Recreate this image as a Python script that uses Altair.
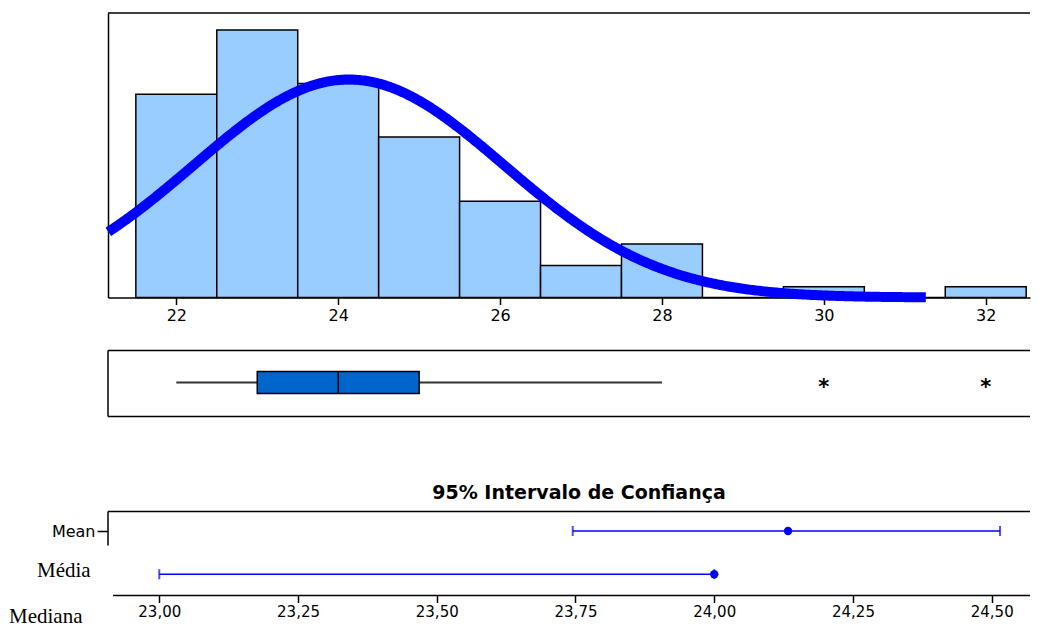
import altair as alt
import pandas as pd
import numpy as np

# ---- data ----
values = [22, 23, 24, 25, 26, 27, 28, 29, 30, 31, 32]
counts = [19, 25, 20, 15, 9, 3, 5, 0, 1, 0, 1]
hist_ticks = [22, 24, 26, 28, 30, 32]

ci_rows = ["Mean", "Median"]
ci_center = [24.133, 24.0]
ci_low = [23.745, 23.0]
ci_high = [24.515, 24.0]
ci_ticks = [23.0, 23.25, 23.5, 23.75, 24.0, 24.25, 24.5]

hist_domain = [21.156, 32.547]
ci_domain = [22.9076, 24.569]
curve_range = [21.16, 31.26]

# ---- derived statistics ----
raw = np.repeat(values, counts).astype(float)
n = len(raw)
mean = float(raw.mean())
sd = float(raw.std(ddof=1))
q1, med, q3 = [float(v) for v in np.percentile(raw, [25, 50, 75])]
iqr = q3 - q1
wlo = float(raw[raw >= q1 - 1.5 * iqr].min())
whi = float(raw[raw <= q3 + 1.5 * iqr].max())
outliers = sorted(set(float(v) for v in raw if v < q1 - 1.5 * iqr or v > q3 + 1.5 * iqr))

hist_df = pd.DataFrame({
    "start": [v - 0.5 for v in values],
    "end": [v + 0.5 for v in values],
    "count": counts,
})
box_df = pd.DataFrame({"q1": [q1], "med": [med], "q3": [q3], "lo": [wlo], "hi": [whi]})
out_df = pd.DataFrame({"v": outliers})
ci_df = pd.DataFrame({"row": ci_rows, "center": ci_center, "low": ci_low, "high": ci_high})
one = pd.DataFrame({"a": [0]})

W = 922
H1, H2, H3 = 284.5, 66, 126.5
FONT = "DejaVu Sans"

hist_x = alt.Scale(domain=hist_domain, nice=False, zero=False)
ci_x = alt.Scale(domain=ci_domain, nice=False, zero=False)

# ---- panel 1: histogram + fitted normal ----
bars = alt.Chart(hist_df).mark_rect(fill="#99CCFF", stroke="black", strokeWidth=1.5).encode(
    x=alt.X("start:Q", scale=hist_x,
            axis=alt.Axis(values=hist_ticks, title=None, grid=False, labelFontSize=16,
                          tickSize=7, tickWidth=1.5, labelPadding=3, domainWidth=1.5,
                          format="d")),
    x2="end:Q",
    y=alt.Y("count:Q", scale=alt.Scale(domain=[0, 26.59], nice=False),
            axis=alt.Axis(title=None, labels=False, ticks=False, grid=False,
                          domainWidth=1.5)),
    y2=alt.datum(0),
)
curve = alt.Chart(alt.sequence(start=curve_range[0], stop=curve_range[1], step=0.02, as_="x")).transform_calculate(
    y=f"{n}/({sd}*sqrt(2*PI))*exp(-pow(datum.x-{mean},2)/(2*{sd}*{sd}))"
).mark_line(color="#0000FF", strokeWidth=10).encode(
    x=alt.X("x:Q", scale=hist_x),
    y=alt.Y("y:Q"),
)
top1 = alt.Chart(one).mark_rule(color="black", strokeWidth=1.5).encode(
    x=alt.value(0), x2=alt.value(W), y=alt.value(0))
p1 = alt.layer(bars, curve, top1).properties(width=W, height=H1)

# ---- panel 2: boxplot ----
whisk = alt.Chart(box_df).mark_rule(color="#333333", strokeWidth=2).encode(
    x=alt.X("lo:Q", scale=hist_x, axis=None), x2="hi:Q", y=alt.value(32))
box = alt.Chart(box_df).mark_rect(fill="#0066CC", stroke="black", strokeWidth=1.5).encode(
    x=alt.X("q1:Q", scale=hist_x, axis=None), x2="q3:Q", y=alt.value(21), y2=alt.value(43))
medline = alt.Chart(box_df).mark_rule(color="black", strokeWidth=1.5).encode(
    x=alt.X("med:Q", scale=hist_x, axis=None), y=alt.value(21), y2=alt.value(43))
outl = alt.Chart(out_df).mark_text(text="*", font=FONT, fontSize=21, fontWeight="bold",
                                   baseline="alphabetic", dy=11, color="black").encode(
    x=alt.X("v:Q", scale=hist_x, axis=None), y=alt.value(32))
f2a = alt.Chart(one).mark_rule(color="black", strokeWidth=1.5).encode(
    x=alt.value(0), x2=alt.value(W), y=alt.value(0))
f2b = alt.Chart(one).mark_rule(color="black", strokeWidth=1.5).encode(
    x=alt.value(0), x2=alt.value(W), y=alt.value(H2))
f2c = alt.Chart(one).mark_rule(color="black", strokeWidth=1.5).encode(
    x=alt.value(0), y=alt.value(0), y2=alt.value(H2))
p2 = alt.layer(whisk, box, medline, outl, f2a, f2b, f2c).properties(width=W, height=H2)

# ---- panel 3: confidence intervals ----
ci_y = alt.Y("row:N", scale=alt.Scale(type="point", domain=ci_rows, range=[62, 105.2], padding=0),
             axis=alt.Axis(values=["Mean"], title=None, domain=False, grid=False,
                           tickSize=11, tickWidth=1.5, labelFontSize=16, labelPadding=2))
ci_xenc = alt.X("low:Q", scale=ci_x,
                axis=alt.Axis(values=ci_ticks, title=None, grid=False, domain=False,
                              labelFontSize=15, tickSize=7, tickWidth=1.5, labelPadding=2,
                              labelExpr="replace(format(datum.value, '.2f'), '.', ',')"))
ci_rule = alt.Chart(ci_df).mark_rule(color="#0000FF", strokeWidth=1.5).encode(
    x=ci_xenc, x2="high:Q", y=ci_y)
cap_lo = alt.Chart(ci_df).mark_tick(color="#0000FF", thickness=2, size=10).encode(
    x=alt.X("low:Q", scale=ci_x), y=ci_y)
cap_hi = alt.Chart(ci_df).mark_tick(color="#0000FF", thickness=2, size=10).encode(
    x=alt.X("high:Q", scale=ci_x), y=ci_y)
dots = alt.Chart(ci_df).mark_point(filled=True, size=70, color="#0000FF", opacity=1).encode(
    x=alt.X("center:Q", scale=ci_x), y=ci_y)
title3 = alt.Chart(one).mark_text(text="95% Intervalo de Confiança", font=FONT, fontSize=19,
                                  fontWeight="bold", align="center", baseline="alphabetic",
                                  color="black").encode(x=alt.value(471), y=alt.value(30.2))
f3a = alt.Chart(one).mark_rule(color="black", strokeWidth=1.5).encode(
    x=alt.value(0), x2=alt.value(W), y=alt.value(42.5))
f3b = alt.Chart(one).mark_rule(color="black", strokeWidth=1.5).encode(
    x=alt.value(0), y=alt.value(42.5), y2=alt.value(76.5))
f3c = alt.Chart(one).mark_rule(color="black", strokeWidth=1.5).encode(
    x=alt.value(5), x2=alt.value(W), y=alt.value(H3))
lab_media = alt.Chart(one).mark_text(text="Média", font="Liberation Serif", fontSize=21,
                                     align="left", baseline="alphabetic", color="black").encode(
    x=alt.value(-71), y=alt.value(107.5))
lab_mediana = alt.Chart(one).mark_text(text="Mediana", font="Liberation Serif", fontSize=21,
                                       align="left", baseline="alphabetic", color="black").encode(
    x=alt.value(-99), y=alt.value(153.5))
p3 = alt.layer(ci_rule, cap_lo, cap_hi, dots, title3, f3a, f3b, f3c, lab_media, lab_mediana).properties(
    width=W, height=H3)

chart = alt.vconcat(p1, p2, p3, spacing=52.5, bounds="flush").properties(
    padding={"left": 1, "top": 4, "right": 0, "bottom": 0}
).configure_view(stroke=None).configure_axis(
    labelFont=FONT, labelColor="black", tickColor="black", domainColor="black"
)

chart.save("out.html", embed_options={"renderer": "svg", "actions": False})
